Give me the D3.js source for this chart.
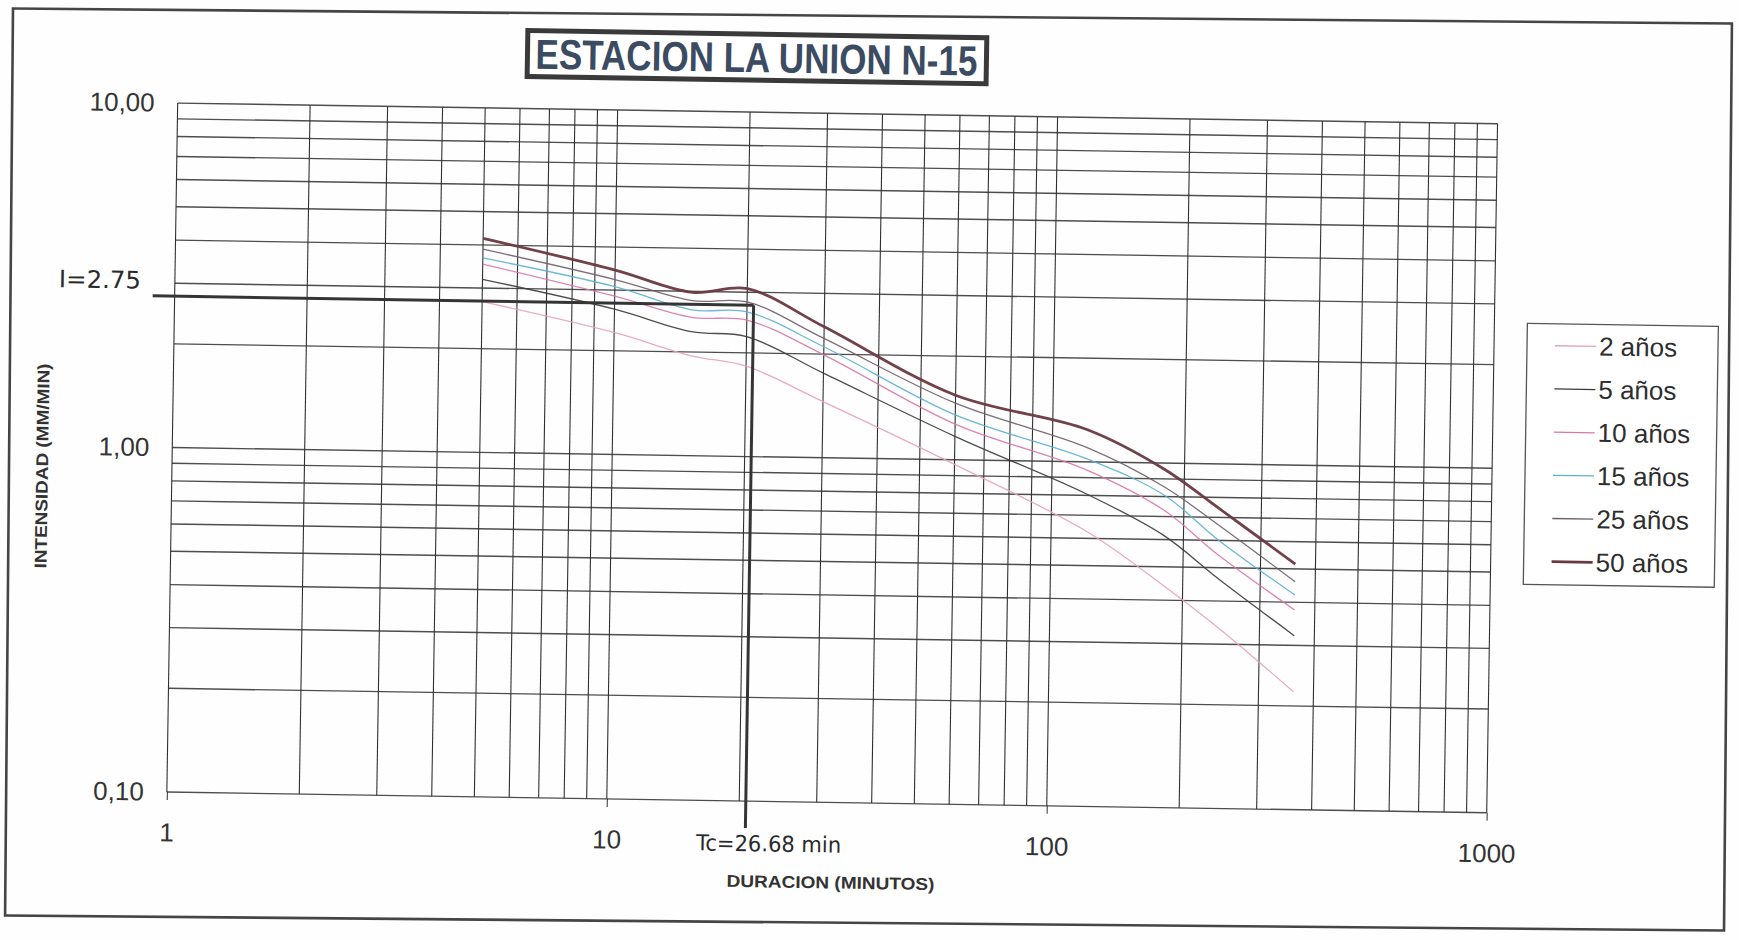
<!DOCTYPE html>
<html>
<head>
<meta charset="utf-8">
<script src="https://cdn.jsdelivr.net/npm/d3@7"></script>
<style>
  html, body { margin: 0; padding: 0; background: #fff; }
  svg { display: block; font-family: "Liberation Sans", Arial, sans-serif; }
</style>
</head>
<body>
<div id="chart"></div>
<script>
// durations (min)
const durations = [5, 10, 15, 20, 30, 60, 120, 180, 240, 360]

const seriesNames = ['2 años', '5 años', '10 años', '15 años', '25 años', '50 años']
const int2 = [2.74, 2.26, 1.95, 1.83, 1.455, 0.97, 0.63, 0.443, 0.337, 0.22]
const int5 = [3.18, 2.64, 2.29, 2.23, 1.76, 1.17, 0.807, 0.618, 0.466, 0.32]
const int10 = [3.52, 2.88, 2.52, 2.49, 1.99, 1.27, 0.947, 0.731, 0.545, 0.38]
const int15 = [3.67, 3.07, 2.65, 2.63, 2.10, 1.35, 1.02, 0.808, 0.602, 0.42]
const int25 = [3.89, 3.22, 2.82, 2.81, 2.22, 1.46, 1.10, 0.854, 0.665, 0.459]
const int50 = [4.18, 3.43, 2.98, 3.07, 2.40, 1.54, 1.24, 0.96, 0.744, 0.516]
const seriesValues = [int2, int5, int10, int15, int25, int50]

const xTickValues = [1, 10, 100, 1000]
const xTickLabels = ['1', '10', '100', '1000']
const yTickValues = [0.1, 1, 10]
const yTickLabels = ['0,10', '1,00', '10,00']

// hand-drawn reading of Tc on the sheet
const tcMark = 20.7
const iMark = 2.75
const tcText = 'Tc=26.68 min'
const iText = 'I=2.75'

const title = 'ESTACION LA UNION N-15'
const xTitle = 'DURACION (MINUTOS)'
const yTitle = 'INTENSIDAD (MM/MIN)'

const colors = ['#e7a2b8', '#3a3a3a', '#d778a6', '#5cb0d2', '#6e5e6a', '#6a3840']
const widths = [1.3, 1.3, 1.3, 1.3, 1.3, 2.8]

const W = 1739
const H = 940

const svg = d3.select('#chart')
  .append('svg')
  .attr('width', W)
  .attr('height', H)

svg.append('rect')
  .attr('width', W)
  .attr('height', H)
  .attr('fill', '#fefefe')

// outer frame (scan is a bit crooked)
svg.append('rect')
  .attr('x', 9).attr('y', 16)
  .attr('width', 1719).attr('height', 907)
  .attr('fill', 'none')
  .attr('stroke', '#454545')
  .attr('stroke-width', 2.6)
  .attr('transform', 'rotate(0.5,870,470)')

const g = svg.append('g')
  .attr('transform', 'rotate(0.9,870,470)')

const x = d3.scaleLog().domain([1, 1000]).range([172, 1492])
const y = d3.scaleLog().domain([0.1, 10]).range([803, 114])

// grid
g.append('g')
  .selectAll('line')
  .data(y.ticks())
  .join('line')
  .attr('x1', x.range()[0])
  .attr('x2', x.range()[1])
  .attr('y1', d => y(d))
  .attr('y2', d => y(d))
  .attr('stroke', '#4d4d4d')
  .attr('stroke-width', 1.4)

g.append('g')
  .selectAll('line')
  .data(x.ticks())
  .join('line')
  .attr('x1', d => x(d))
  .attr('x2', d => x(d))
  .attr('y1', y.range()[1])
  .attr('y2', y.range()[0])
  .attr('stroke', '#303030')
  .attr('stroke-width', 1.1)

// axes
const xAxis = g.append('g')
  .attr('transform', `translate(0,${y.range()[0]})`)
  .call(d3.axisBottom(x)
    .tickValues(xTickValues)
    .tickFormat((d, i) => xTickLabels[i])
    .tickSize(8)
    .tickPadding(23))
xAxis.select('.domain').remove()
xAxis.selectAll('line').attr('stroke', '#303030')
xAxis.selectAll('text')
  .attr('font-size', 26)
  .attr('fill', '#333')
  .attr('font-family', '"Liberation Sans", Arial, sans-serif')

const yAxis = g.append('g')
  .attr('transform', `translate(${x.range()[0]},0)`)
  .call(d3.axisLeft(y)
    .tickValues(yTickValues)
    .tickFormat((d, i) => yTickLabels[i])
    .tickSize(0)
    .tickPadding(23))
yAxis.select('.domain').remove()
yAxis.selectAll('text')
  .attr('font-size', 26)
  .attr('fill', '#333')
  .attr('font-family', '"Liberation Sans", Arial, sans-serif')

// axis titles
g.append('text')
  .attr('x', 837).attr('y', 889)
  .attr('text-anchor', 'middle')
  .attr('font-size', 17)
  .attr('font-weight', 'bold')
  .attr('fill', '#333')
  .attr('textLength', 208)
  .attr('lengthAdjust', 'spacingAndGlyphs')
  .text(xTitle)

g.append('text')
  .attr('transform', 'translate(48,479) rotate(-90)')
  .attr('text-anchor', 'middle')
  .attr('font-size', 17)
  .attr('font-weight', 'bold')
  .attr('fill', '#333')
  .attr('textLength', 205)
  .attr('lengthAdjust', 'spacingAndGlyphs')
  .text(yTitle)

// title box
g.append('rect')
  .attr('x', 521).attr('y', 36)
  .attr('width', 459).attr('height', 46)
  .attr('fill', '#fff')
  .attr('stroke', '#3a3a3a')
  .attr('stroke-width', 5)

g.append('text')
  .attr('x', 750).attr('y', 74)
  .attr('text-anchor', 'middle')
  .attr('font-size', 42)
  .attr('font-weight', 'bold')
  .attr('fill', '#3b4c62')
  .attr('textLength', 442)
  .attr('lengthAdjust', 'spacingAndGlyphs')
  .text(title)

// curves
const line = d3.line()
  .x(d => x(d[0]))
  .y(d => y(d[1]))
  .curve(d3.curveCatmullRom.alpha(0.5))

seriesValues.forEach((vals, i) => {
  g.append('path')
    .datum(durations.map((t, k) => [t, vals[k]]))
    .attr('d', line)
    .attr('fill', 'none')
    .attr('stroke', colors[i])
    .attr('stroke-width', widths[i])
    .attr('stroke-opacity', i === 5 ? 0.95 : 0.9)
})

// Tc / I reading lines
g.append('line')
  .attr('x1', x(1) - 22)
  .attr('x2', x(tcMark))
  .attr('y1', y(iMark))
  .attr('y2', y(iMark))
  .attr('stroke', '#353535')
  .attr('stroke-width', 3)

g.append('line')
  .attr('x1', x(tcMark))
  .attr('x2', x(tcMark))
  .attr('y1', y(iMark))
  .attr('y2', 830)
  .attr('stroke', '#353535')
  .attr('stroke-width', 3)

g.append('text')
  .attr('x', 56).attr('y', 300)
  .attr('font-family', '"DejaVu Sans", sans-serif')
  .attr('font-size', 24)
  .attr('fill', '#2a2a2a')
  .attr('textLength', 82)
  .attr('lengthAdjust', 'spacingAndGlyphs')
  .text(iText)

g.append('text')
  .attr('x', 702).attr('y', 853)
  .attr('font-family', '"DejaVu Sans", sans-serif')
  .attr('font-size', 22)
  .attr('fill', '#2a2a2a')
  .attr('textLength', 145)
  .attr('lengthAdjust', 'spacingAndGlyphs')
  .text(tcText)

// legend
const legend = g.append('g').attr('transform', 'translate(1525,313)')
legend.append('rect')
  .attr('width', 191).attr('height', 261)
  .attr('fill', '#fff')
  .attr('stroke', '#555')
  .attr('stroke-width', 1.3)

const item = legend.selectAll('g.item')
  .data(seriesNames)
  .join('g')
  .attr('class', 'item')
  .attr('transform', (d, i) => `translate(0,${22 + i * 43.2})`)

item.append('line')
  .attr('x1', 28).attr('x2', 69)
  .attr('stroke', (d, i) => colors[i])
  .attr('stroke-width', (d, i) => widths[i])

item.append('text')
  .attr('x', 72).attr('y', 9)
  .attr('font-size', 26)
  .attr('fill', '#2e2e2e')
  .text(d => d)
</script>
</body>
</html>
